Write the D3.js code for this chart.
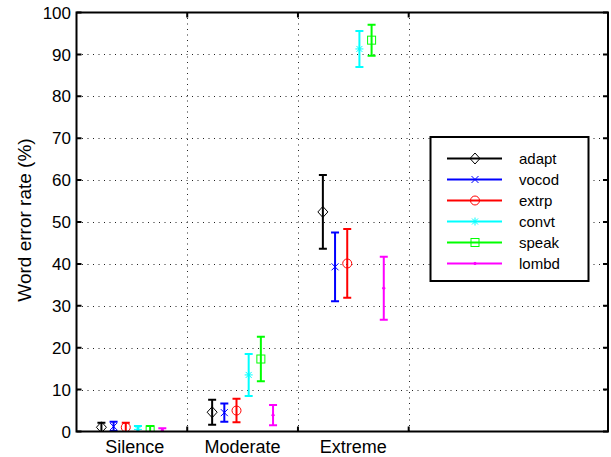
<!DOCTYPE html>
<html>
<head>
<meta charset="utf-8">
<script src="https://cdn.jsdelivr.net/npm/d3@7"></script>
<style>
  body { margin: 0; background: #fff; }
  text { font-family: "Liberation Sans", Arial, sans-serif; fill: #000; }
</style>
</head>
<body>
<svg width="611" height="457"></svg>
<script>
const categories = ["Silence", "Moderate", "Extreme"];
const methods = ["adapt", "vocod", "extrp", "convt", "speak", "lombd"];
const colors = ["#000000", "#0000ff", "#ff0000", "#00ffff", "#00ff00", "#ff00ff"];
const markers = ["diamond", "x", "circle", "star", "square", "dot"];
const yTicks = [0, 10, 20, 30, 40, 50, 60, 70, 80, 90, 100];
const xTicks = [1.5, 2.5, 3.5];

// mean word error rate per method, one value per category
const adaptMean = [1.0, 4.6, 52.4];
const vocodMean = [1.2, 4.5, 39.3];
const extrpMean = [1.0, 5.0, 40.1];
const convtMean = [0.5, 13.5, 91.3];
const speakMean = [0.4, 17.3, 93.4];
const lombdMean = [0.3, 3.9, 34.2];

// half length of the error bars
const adaptErr = [1.1, 3.0, 8.8];
const vocodErr = [1.1, 2.2, 8.2];
const extrpErr = [1.1, 2.8, 8.2];
const convtErr = [0.8, 5.0, 4.3];
const speakErr = [0.9, 5.3, 3.7];
const lombdErr = [0.5, 2.4, 7.5];

const means = [adaptMean, vocodMean, extrpMean, convtMean, speakMean, lombdMean];
const errs = [adaptErr, vocodErr, extrpErr, convtErr, speakErr, lombdErr];

const points = [];
methods.forEach((m, k) => {
  categories.forEach((c, i) => {
    points.push({ k, x: i + 1 + (k - 2.5) * 0.11, y: means[k][i], e: errs[k][i] });
  });
});

const svg = d3.select("svg");
const L = 76.5, R = 608, T = 12.5, B = 431.5;

const x = d3.scaleLinear().domain([0.5, 5.3]).range([L, R]);
const y = d3.scaleLinear().domain([0, 100]).range([B, T]);

svg.append("defs").append("clipPath").attr("id", "plotclip")
  .append("rect").attr("x", L).attr("y", T).attr("width", R - L).attr("height", B - T);

// grid
const grid = svg.append("g").attr("stroke", "#222").attr("stroke-width", 1)
  .attr("stroke-dasharray", "1,4.5");
grid.selectAll(".gy").data(yTicks.slice(1, -1)).join("line")
  .attr("x1", L).attr("x2", R)
  .attr("y1", d => Math.round(y(d)) + 0.5).attr("y2", d => Math.round(y(d)) + 0.5);
grid.selectAll(".gx").data(xTicks).join("line")
  .attr("y1", T).attr("y2", B)
  .attr("x1", d => Math.round(x(d)) + 0.5).attr("x2", d => Math.round(x(d)) + 0.5);

// error bars
const plot = svg.append("g").attr("clip-path", "url(#plotclip)");
const cap = 4;
const eb = plot.selectAll(".eb").data(points).join("g")
  .attr("stroke", d => colors[d.k]).attr("stroke-width", 2).attr("fill", "none");
eb.append("line")
  .attr("x1", d => x(d.x)).attr("x2", d => x(d.x))
  .attr("y1", d => y(d.y - d.e)).attr("y2", d => y(d.y + d.e));
eb.append("line")
  .attr("x1", d => x(d.x) - cap).attr("x2", d => x(d.x) + cap)
  .attr("y1", d => y(d.y + d.e)).attr("y2", d => y(d.y + d.e));
eb.append("line")
  .attr("x1", d => x(d.x) - cap).attr("x2", d => x(d.x) + cap)
  .attr("y1", d => y(d.y - d.e)).attr("y2", d => y(d.y - d.e));

function drawMarker(g, type, color) {
  g.attr("stroke", color).attr("fill", "none").attr("stroke-width", 1);
  if (type === "diamond") {
    g.append("path").attr("d", "M0,-5.5L5,0L0,5.5L-5,0Z");
  } else if (type === "x") {
    g.append("path").attr("d", "M-3.5,-3.5L3.5,3.5M-3.5,3.5L3.5,-3.5");
  } else if (type === "circle") {
    g.append("circle").attr("r", 4.5);
  } else if (type === "star") {
    g.append("path").attr("d", "M-4,0L4,0M0,-4L0,4M-3,-3L3,3M-3,3L3,-3");
  } else if (type === "square") {
    g.append("rect").attr("x", -4).attr("y", -4).attr("width", 8).attr("height", 8);
  } else {
    g.append("circle").attr("r", 1.2).attr("fill", color);
  }
}

plot.selectAll(".mk").data(points).join("g")
  .attr("transform", d => `translate(${x(d.x)},${y(d.y)})`)
  .each(function (d) { drawMarker(d3.select(this), markers[d.k], colors[d.k]); });

// axes box and ticks
const ax = svg.append("g").attr("stroke", "#000").attr("stroke-width", 2).attr("fill", "none");
ax.append("rect").attr("x", L).attr("y", T).attr("width", R - L).attr("height", B - T);
ax.selectAll(".ty").data(yTicks).join("path")
  .attr("d", d => `M${L},${y(d)}h5M${R},${y(d)}h-5`);
ax.selectAll(".tx").data(xTicks).join("path")
  .attr("d", d => `M${x(d)},${B}v-5M${x(d)},${T}v5`);

svg.selectAll(".yl").data(yTicks).join("text")
  .attr("x", 71).attr("y", d => y(d)).attr("dy", "0.36em")
  .attr("text-anchor", "end").attr("font-size", 17).text(d => d);

svg.selectAll(".xl").data(categories).join("text")
  .attr("x", (d, i) => x(i + 1) + (i === 0 ? 3 : 0)).attr("y", 453)
  .attr("text-anchor", "middle").attr("font-size", 18).text(d => d);

svg.append("text")
  .attr("transform", `translate(31,${(T + B) / 2 - 2}) rotate(-90)`)
  .attr("text-anchor", "middle").attr("font-size", 19)
  .text("Word error rate (%)");

// legend
const lg = svg.append("g");
lg.append("rect").attr("x", 430.5).attr("y", 137).attr("width", 158).attr("height", 144)
  .attr("fill", "#fff").attr("stroke", "#000").attr("stroke-width", 2);
const item = lg.selectAll(".li").data(methods).join("g")
  .attr("transform", (d, i) => `translate(0,${158.5 + i * 21})`);
item.append("line").attr("x1", 447).attr("x2", 502).attr("y1", 0).attr("y2", 0)
  .attr("stroke", (d, i) => colors[i]).attr("stroke-width", 2);
item.append("g").attr("transform", "translate(475,0)")
  .each(function (d, i) { drawMarker(d3.select(this), markers[i], colors[i]); });
item.append("text").attr("x", 519).attr("dy", "0.36em").attr("font-size", 15).text(d => d);
</script>
</body>
</html>
